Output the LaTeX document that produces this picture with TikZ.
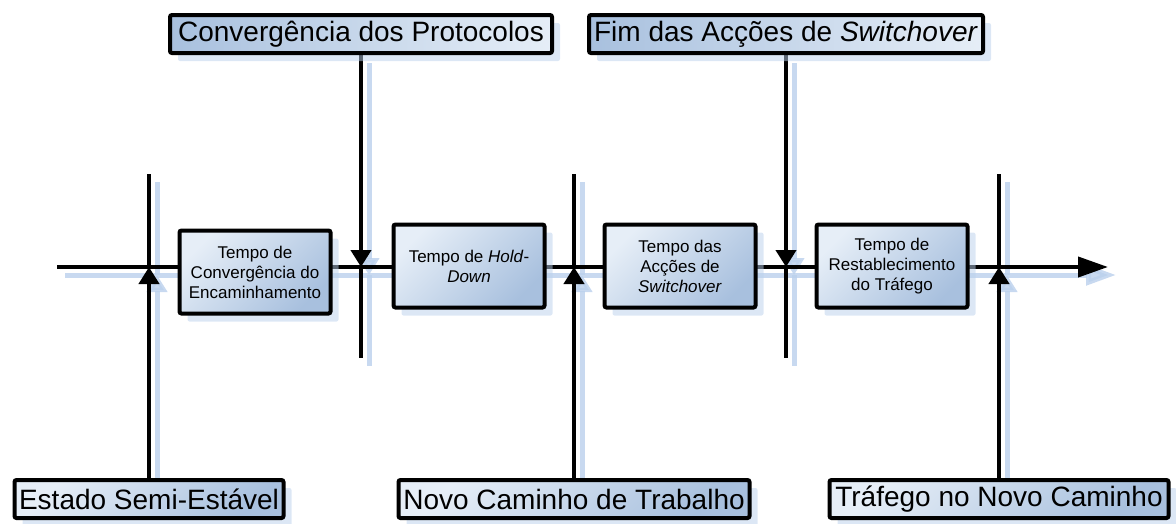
\documentclass[tikz,border=0pt]{standalone}
\usepackage{fontspec}
\setmainfont{Liberation Sans}
\usetikzlibrary{arrows.meta}
\usetikzlibrary{shadows}
\usetikzlibrary{backgrounds}
\definecolor{boxlight}{RGB}{230,238,247}
\definecolor{boxdark}{RGB}{168,192,222}
\definecolor{shadowblue}{RGB}{186,208,236}

\begin{document}
\begin{tikzpicture}[x=1pt, y=-1pt,
  stage/.style={draw, line width=4pt, rounded corners=2pt, align=center, inner sep=2pt,
    font=\fontsize{17}{20}\selectfont, minimum width=151pt, minimum height=83pt,
    top color=boxlight, bottom color=boxdark, shading angle=45,
    drop shadow={shadow xshift=8pt, shadow yshift=-8pt, fill=shadowblue, opacity=.5}},
  event/.style={stage, font=\fontsize{28}{32}\selectfont, minimum width=0pt, minimum height=38pt},
  topevent/.style={event, left color=boxdark, right color=boxlight},
  shadowpass/.style={color=shadowblue, line width=5pt, opacity=.8, transform canvas={shift={(8pt,-8pt)}}},
  inkpass/.style={color=black, line width=4pt},
  hit/.style={-{Triangle[length=17pt, width=20pt]}}]
  \useasboundingbox (0,0) rectangle (1176,523);

  \node[stage] (routing) at (255,272) {Tempo de\\Convergência do\\Encaminhamento};
  \node[stage] (holddown) at (469,266) {Tempo de \textit{Hold}-\\\textit{Down}};
  \node[stage] (switching) at (680,266) {Tempo das\\Acções de\\\textit{Switchover}};
  \node[stage] (recovery) at (892,266) {Tempo de\\Restablecimento\\do Tráfego};

  \node[topevent, minimum width=382pt] (protocols) at (361,34) {Convergência dos Protocolos};
  \node[topevent, minimum width=394pt] (endswitch) at (786,34) {Fim das Acções de \textit{Switchover}};
  \node[event, minimum width=269pt] (steady) at (149,499) {Estado Semi-Estável};
  \node[event, minimum width=351pt] (newpath) at (574,499) {Novo Caminho de Trabalho};
  \node[event, minimum width=339pt] (traffic) at (999,499) {Tráfego no Novo Caminho};

  \coordinate (start) at (57,267);
  \coordinate (end) at (1108,267);
  \coordinate (steady hit) at (149,267);    \coordinate (steady top) at (149,174);
  \coordinate (protocols hit) at (361,267); \coordinate (protocols low) at (361,358);
  \coordinate (newpath hit) at (574,267);   \coordinate (newpath top) at (574,174);
  \coordinate (endswitch hit) at (786,267); \coordinate (endswitch low) at (786,358);
  \coordinate (traffic hit) at (999,267);   \coordinate (traffic top) at (999,174);

  \begin{scope}[on background layer]
    \foreach \pass in {shadowpass,inkpass} {
      \begin{scope}[\pass]
        \draw[-{Triangle[length=30pt, width=20pt]}] (start) -- (end);
        \draw[hit] (steady) -- (steady hit);
        \draw (steady hit) -- (steady top);
        \draw[hit] (newpath) -- (newpath hit);
        \draw (newpath hit) -- (newpath top);
        \draw[hit] (traffic) -- (traffic hit);
        \draw (traffic hit) -- (traffic top);
        \draw[hit] (protocols) -- (protocols hit);
        \draw (protocols hit) -- (protocols low);
        \draw[hit] (endswitch) -- (endswitch hit);
        \draw (endswitch hit) -- (endswitch low);
      \end{scope}
    }
  \end{scope}
\end{tikzpicture}
\end{document}
